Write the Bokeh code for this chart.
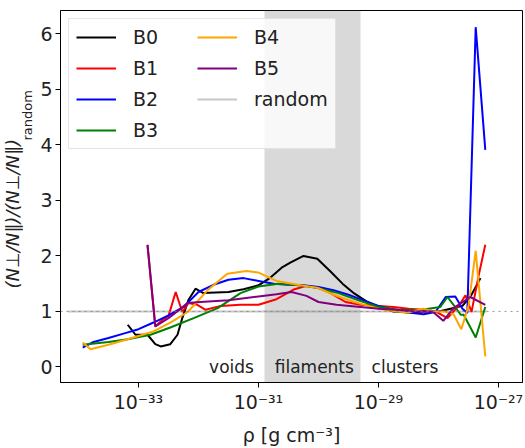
import numpy as np
from bokeh.plotting import figure
from bokeh.models import (Range1d, FixedTicker, CustomJSTickFormatter, BoxAnnotation,
                          Span, Legend, LegendItem, Title)
from bokeh.core.properties import value
from bokeh.embed import file_html
from bokeh.resources import INLINE

# ---------------- data (x given as log10 of rho) ----------------
b0_logx = [-33.18, -33.05, -32.85, -32.72, -32.63, -32.47, -32.35, -32.27, -32.17, -32.05,
           -31.92, -31.5, -31.25, -31.0, -30.8, -30.6, -30.47, -30.25, -30.02, -29.8,
           -29.6, -29.4, -29.2, -29.0, -28.75, -28.5, -28.25, -28.0, -27.8, -27.6,
           -27.45, -27.3]
b0_y = [0.76, 0.58, 0.58, 0.41, 0.37, 0.41, 0.58, 0.88, 1.2, 1.41,
        1.33, 1.35, 1.4, 1.47, 1.61, 1.8, 1.88, 2.0, 1.95, 1.72,
        1.5, 1.32, 1.18, 1.08, 1.0, 0.98, 1.0, 1.0, 1.05, 1.1,
        1.3, 1.6]

b1_logx = [-32.85, -32.72, -32.6, -32.5, -32.38, -32.27, -32.17, -32.02, -31.88, -31.63,
           -31.3, -31.0, -30.7, -30.4, -30.2, -30.0, -29.8, -29.55, -29.3, -29.0,
           -28.75, -28.5, -28.25, -28.05, -27.85, -27.65, -27.55, -27.45, -27.33, -27.22]
b1_y = [2.2, 0.73, 0.85, 0.92, 1.35, 0.99, 1.15, 1.12, 1.03, 1.1,
        1.12, 1.12, 1.22, 1.4, 1.46, 1.42, 1.33, 1.17, 1.12, 1.1,
        1.08, 1.05, 1.03, 1.0, 0.88, 1.12, 1.29, 0.99, 1.65, 2.2]

b2_logx = [-33.93, -33.75, -33.5, -33.25, -33.0, -32.75, -32.5, -32.25, -32.0, -31.75,
           -31.5, -31.25, -31.0, -30.75, -30.5, -30.25, -30.0, -29.75, -29.5, -29.25,
           -29.0, -28.75, -28.5, -28.25, -28.05, -27.88, -27.72, -27.6, -27.52, -27.38,
           -27.22]
b2_y = [0.35, 0.45, 0.52, 0.6, 0.68, 0.8, 0.93, 1.08, 1.35, 1.48,
        1.57, 1.6, 1.55, 1.5, 1.48, 1.47, 1.44, 1.38, 1.3, 1.2,
        1.1, 1.03, 0.98, 0.95, 0.99, 1.26, 1.27, 1.05, 0.97, 6.12,
        3.91]

b3_logx = [-33.93, -33.5, -33.18, -32.8, -32.47, -32.08, -31.68, -31.3, -31.0, -30.67,
           -30.33, -30.0, -29.67, -29.33, -29.0, -28.67, -28.33, -27.97, -27.85, -27.75,
           -27.63, -27.58, -27.38, -27.22]
b3_y = [0.4, 0.45, 0.5, 0.58, 0.71, 0.88, 1.06, 1.33, 1.45, 1.5,
        1.47, 1.42, 1.33, 1.2, 1.08, 1.03, 1.02, 1.08, 1.26, 1.12,
        0.94, 0.94, 0.53, 1.08]

b4_logx = [-33.93, -33.8, -33.5, -33.18, -32.75, -32.47, -32.18, -31.85, -31.52, -31.2,
           -31.0, -30.7, -30.3, -30.0, -29.75, -29.4, -29.0, -28.7, -28.5, -28.25,
           -28.1, -27.9, -27.75, -27.62, -27.5, -27.38, -27.22]
b4_y = [0.44, 0.32, 0.4, 0.5, 0.64, 0.8, 0.99, 1.38, 1.68, 1.73,
        1.7, 1.55, 1.47, 1.42, 1.3, 1.17, 1.05, 1.0, 0.98, 1.05,
        1.0, 1.0, 0.95, 0.68, 1.1, 2.09, 0.19]

b5_logx = [-32.85, -32.72, -32.5, -32.18, -31.97, -31.5, -31.0, -30.7, -30.45, -30.2,
           -30.0, -29.7, -29.3, -29.0, -28.7, -28.4, -28.1, -27.92, -27.75, -27.47,
           -27.22]
b5_y = [2.2, 0.73, 0.88, 1.15, 1.17, 1.2, 1.27, 1.31, 1.35, 1.28,
        1.17, 1.12, 1.08, 1.05, 1.03, 1.0, 1.0, 0.83, 1.06, 1.26,
        1.12]

random_logx = [-34.18, -27.2]
random_y = [1.0, 1.0]

series_names = ["B0", "B1", "B2", "B3", "B4", "B5"]
series_colors = ["black", "red", "blue", "green", "orange", "purple"]

region_names = ["voids", "filaments", "clusters"]
region_logx = [-31.45, -30.07, -28.56]
region_y = [0.0, 0.0, 0.0]

filament_band_logx = [-30.9, -29.3]

y_ticks = [0, 1, 2, 3, 4, 5, 6]
x_ticks = [1e-33, 1e-31, 1e-29, 1e-27]

FONT = "DejaVu Sans"

p = figure(width=525, height=448, x_axis_type="log", output_backend="svg",
           toolbar_location=None,
           x_range=Range1d(10 ** -34.3, 10 ** -26.6), y_range=Range1d(-0.28, 6.42),
           min_border_left=60, min_border_right=3, min_border_top=10,
           min_border_bottom=59)
p.grid.visible = False
p.outline_line_color = "black"
p.outline_line_width = 1

p.add_layout(BoxAnnotation(left=10 ** filament_band_logx[0], right=10 ** filament_band_logx[1],
                           fill_color="gray", fill_alpha=0.3, line_color=None,
                           level="underlay"))
p.add_layout(Span(location=1, dimension="width", line_color="gray", line_alpha=0.8,
                  line_width=1, line_dash="dotted"))

r_random = p.line(10 ** np.array(random_logx), random_y, line_color="gray",
                  line_alpha=0.45, line_width=2)

all_x = [b0_logx, b1_logx, b2_logx, b3_logx, b4_logx, b5_logx]
all_y = [b0_y, b1_y, b2_y, b3_y, b4_y, b5_y]
rends = []
for xs, ys, c in zip(all_x, all_y, series_colors):
    rends.append(p.line(10 ** np.array(xs), ys, line_color=c, line_width=2))

p.text(x=10 ** np.array(region_logx), y=region_y, text=region_names,
       text_font=value(FONT), text_font_size="17px", text_align="center",
       text_baseline="middle", text_color="#222222")

# axes
p.xaxis.ticker = FixedTicker(ticks=x_ticks)
p.xaxis.formatter = CustomJSTickFormatter(code="""
const e = Math.round(Math.log10(tick));
const sup = {'-':'\u207b','0':'\u2070','1':'\u00b9','2':'\u00b2','3':'\u00b3','4':'\u2074',
             '5':'\u2075','6':'\u2076','7':'\u2077','8':'\u2078','9':'\u2079'};
return '10' + String(e).split('').map(c => sup[c]).join('');
""")
p.yaxis.ticker = FixedTicker(ticks=y_ticks)
for ax in (p.xaxis, p.yaxis):
    ax.major_tick_out = 5
    ax.major_tick_in = 0
    ax.minor_tick_line_color = None
    ax.axis_line_color = "black"
    ax.major_tick_line_color = "black"
    ax.major_label_text_font = FONT
    ax.major_label_text_font_size = "19px"
    ax.major_label_text_color = "#222222"
    ax.major_label_standoff = 3
p.xaxis.axis_label = "\u03c1 [g cm\u207b\u00b3]"
p.xaxis.axis_label_text_font = FONT
p.xaxis.axis_label_text_font_size = "19px"
p.xaxis.axis_label_text_font_style = "normal"
p.xaxis.axis_label_text_color = "#222222"
p.xaxis.axis_label_standoff = 8

# y label: subscript part first (next to the axis), then the main part
p.add_layout(Title(text="random", align="left", offset=242, standoff=6,
                   text_font=FONT, text_font_size="13px", text_font_style="normal",
                   text_color="#222222"), "left")
p.add_layout(Title(text="(N\u22a5/N\u2225)/(N\u22a5/N\u2225)", align="left", offset=94,
                   standoff=-16, text_font=FONT, text_font_size="18px",
                   text_font_style="italic", text_color="#222222"), "left")

items = [LegendItem(label=n, renderers=[r]) for n, r in zip(series_names, rends)]
items.append(LegendItem(label="random", renderers=[r_random]))
legend = Legend(items=items, location="top_left", ncols=2,
                label_text_font=FONT, label_text_font_size="19px",
                label_text_color="#222222",
                glyph_width=40, glyph_height=20, label_standoff=17,
                label_width=55, spacing=9, padding=7, margin=8,
                border_line_color="#cccccc", background_fill_alpha=0.8)
p.add_layout(legend)

open("out.html", "w").write(file_html(p, INLINE))
